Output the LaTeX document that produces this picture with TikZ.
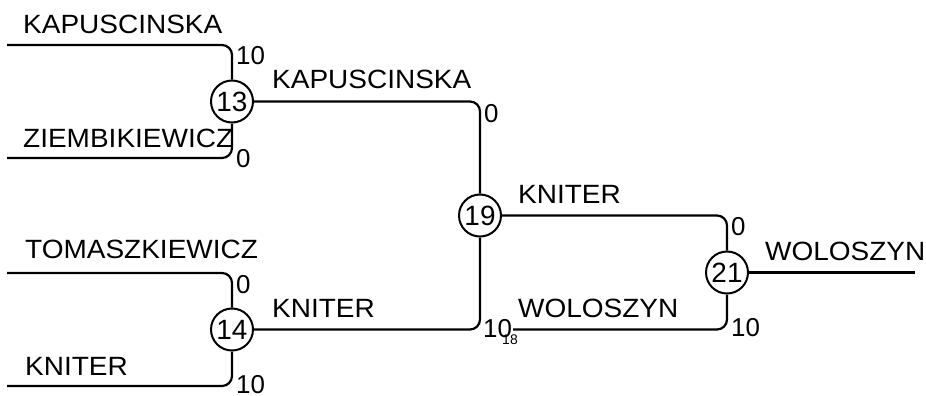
\documentclass[tikz,border=0pt]{standalone}
\usepackage{fontspec}
\usepackage{graphicx}
\setmainfont{Liberation Sans}
\newcommand{\nm}[1]{\scalebox{1.06}[1]{#1}}
\begin{document}
\begin{tikzpicture}[x=1bp,y=-1bp,
  wire/.style={line width=2.2bp, rounded corners=10bp},
  match/.style={circle, draw, line width=2bp, minimum size=42bp, inner sep=0pt, font=\fontsize{28}{30}\selectfont},
  player/.style={anchor=base west, inner sep=0pt, font=\fontsize{26.5}{29}\selectfont},
  score/.style={inner sep=0pt, font=\fontsize{26}{28}\selectfont},
  tiny/.style={inner sep=0pt, font=\fontsize{14}{16}\selectfont}]
\useasboundingbox (0,0) rectangle (926,395);
% match circles
\node[match] (m13) at (232,101.5) {13};
\node[match] (m14) at (232,329.5) {14};
\node[match] (m19) at (480,215.5) {19};
\node[match] (m21) at (727,272.5) {21};
% entry points
\coordinate (a1) at (7,45);
\coordinate (a2) at (7,158);
\coordinate (a3) at (7,273);
\coordinate (a4) at (7,386);
\coordinate (a5) at (513,329.5);
\coordinate (fin) at (915,272.5);
% wires
\draw[wire] (a1) -| (m13);
\draw[wire] (a2) -| (m13);
\draw[wire] (a3) -| (m14);
\draw[wire] (a4) -| (m14);
\draw[wire] (m13) -| (m19);
\draw[wire] (m14) -| (m19);
\draw[wire] (m19) -| (m21);
\draw[wire] (a5) -| (m21);
\draw[wire] (m21) -- (fin);
% player names
\node[player] (p1) at (23,33) {\nm{KAPUSCINSKA}};
\node[player] (p2) at (23,147) {\nm{ZIEMBIKIEWICZ}};
\node[player] (p3) at (25,258) {\nm{TOMASZKIEWICZ}};
\node[player] (p4) at (25,375) {\nm{KNITER}};
\node[player] (p5) at (272,88) {\nm{KAPUSCINSKA}};
\node[player] (p6) at (272,317) {\nm{KNITER}};
\node[player] (p7) at (518,203) {\nm{KNITER}};
\node[player] (p8) at (518,317) {\nm{WOLOSZYN}};
\node[player] (p9) at (765,260) {\nm{WOLOSZYN}};
% scores
\node[score, anchor=north west] (s1) at (236,46) {10};
\node[score, anchor=west] (s2) at (236,159) {0};
\node[score, anchor=north west] (s3) at (236,275) {0};
\node[score, anchor=west] (s4) at (236,385) {10};
\node[score, anchor=north west] (s5) at (484,104) {0};
\node[score, anchor=west] (s6) at (483,329) {10};
\node[score, anchor=north west] (s7) at (731,217) {0};
\node[score, anchor=west] (s8) at (731,328) {10};
\node[tiny] (t18) at (510,340) {18};
\end{tikzpicture}
\end{document}
